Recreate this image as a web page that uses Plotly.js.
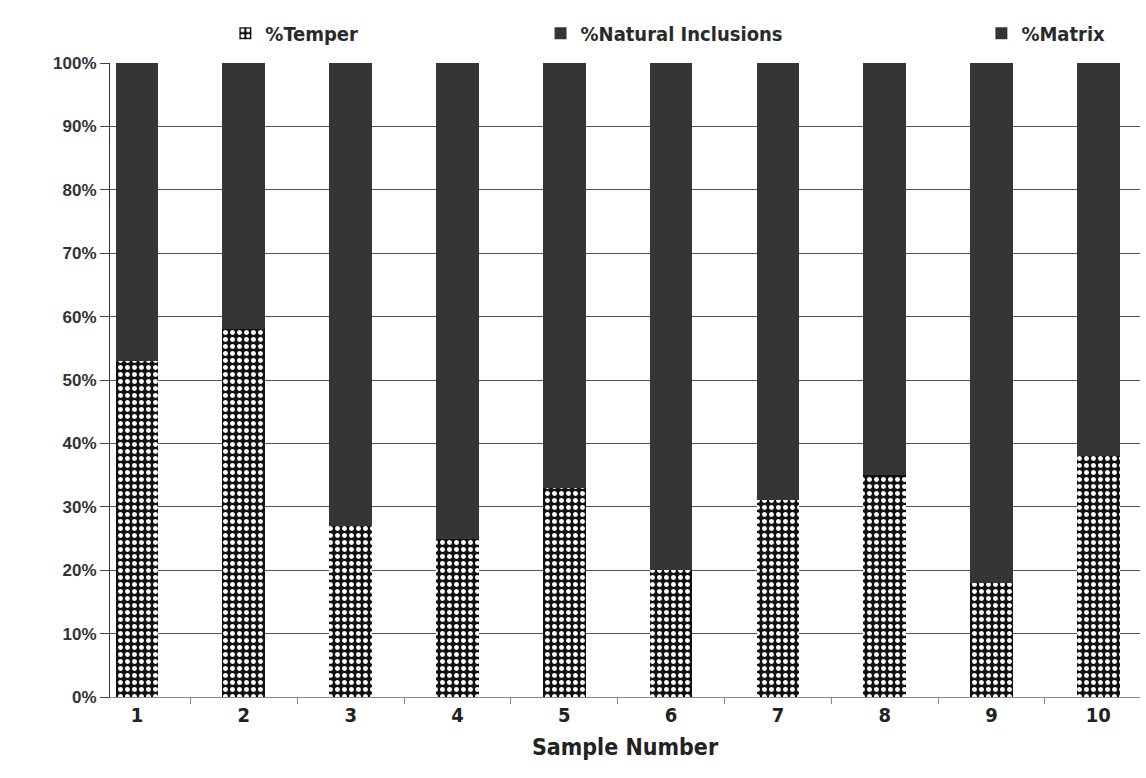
<!DOCTYPE html>
<html>
<head>
<meta charset="utf-8">
<script src="https://cdn.plot.ly/plotly-3.0.1.min.js"></script>
<style>html,body{margin:0;padding:0;background:#fff;}#chart{width:1146px;height:778px;}</style>
</head>
<body>
<div id="chart"></div>
<script>
const samples = [1, 2, 3, 4, 5, 6, 7, 8, 9, 10];
const sampleLabels = ["1", "2", "3", "4", "5", "6", "7", "8", "9", "10"];
const temper = [53, 58, 27, 25, 33, 20, 31, 35, 18, 38];
const naturalInclusions = [3, 2, 4, 3, 3, 4, 3, 2, 4, 3];
const matrix = [44, 40, 69, 72, 64, 76, 66, 63, 78, 59];

const narrow = "DejaVu Sans Condensed, Liberation Sans Narrow, Arial Narrow, sans-serif";
const legendFont = {family: narrow, size: 20, color: "#2a2a2a", weight: "bold"};

const traces = [
  {
    type: "bar", name: "%Temper", x: samples, y: temper, width: 0.4,
    legend: "legend",
    marker: {
      color: "#111111",
      line: {width: 0},
      pattern: {shape: ".", fillmode: "overlay", fgcolor: "#ffffff", fgopacity: 1, size: 7, solidity: 0.4}
    },
    hovertemplate: "%{y}%<extra>%Temper</extra>"
  },
  {
    type: "bar", name: "%Natural Inclusions", x: samples, y: naturalInclusions, width: 0.4,
    legend: "legend2",
    marker: {color: "#353535", line: {width: 0}},
    hovertemplate: "%{y}%<extra>%Natural Inclusions</extra>"
  },
  {
    type: "bar", name: "%Matrix", x: samples, y: matrix, width: 0.4,
    legend: "legend3",
    marker: {color: "#353535", line: {width: 0}},
    hovertemplate: "%{y}%<extra>%Matrix</extra>"
  }
];

const legendBase = {orientation: "h", yanchor: "middle", xanchor: "left", y: 1.047,
  font: legendFont, bgcolor: "rgba(0,0,0,0)", itemwidth: 30, tracegroupgap: 0};

const layout = {
  width: 1146, height: 778,
  paper_bgcolor: "#ffffff", plot_bgcolor: "#ffffff",
  margin: {l: 110, r: 6, t: 63, b: 81},
  barmode: "stack",
  showlegend: true,
  legend: Object.assign({}, legendBase, {x: 0.112}),
  legend2: Object.assign({}, legendBase, {x: 0.418}),
  legend3: Object.assign({}, legendBase, {x: 0.846}),
  xaxis: {
    range: [0.747, 10.39],
    tickvals: samples, ticktext: sampleLabels,
    ticks: "", showgrid: false, zeroline: false,
    showline: true, linecolor: "#8a8a8a", linewidth: 1,
    tickfont: {family: narrow, size: 20, color: "#222", weight: "bold"},
    minor: {tick0: 0.5, dtick: 1, ticks: "outside", ticklen: 6, tickcolor: "#888", showgrid: false},
    title: {text: "Sample Number", font: {family: narrow, size: 23, color: "#222", weight: "bold"}, standoff: 12}
  },
  yaxis: {
    range: [0, 100], dtick: 10, ticksuffix: "%",
    ticks: "outside", ticklen: 9, tickcolor: "#444",
    showgrid: true, gridcolor: "#555", gridwidth: 1,
    zeroline: false, showline: true, linecolor: "#333", linewidth: 1,
    tickfont: {family: "Liberation Sans, Arial, sans-serif", size: 17, color: "#333", weight: "bold"}
  }
};

Plotly.newPlot("chart", traces, layout, {displayModeBar: false, staticPlot: true});
</script>
</body>
</html>
